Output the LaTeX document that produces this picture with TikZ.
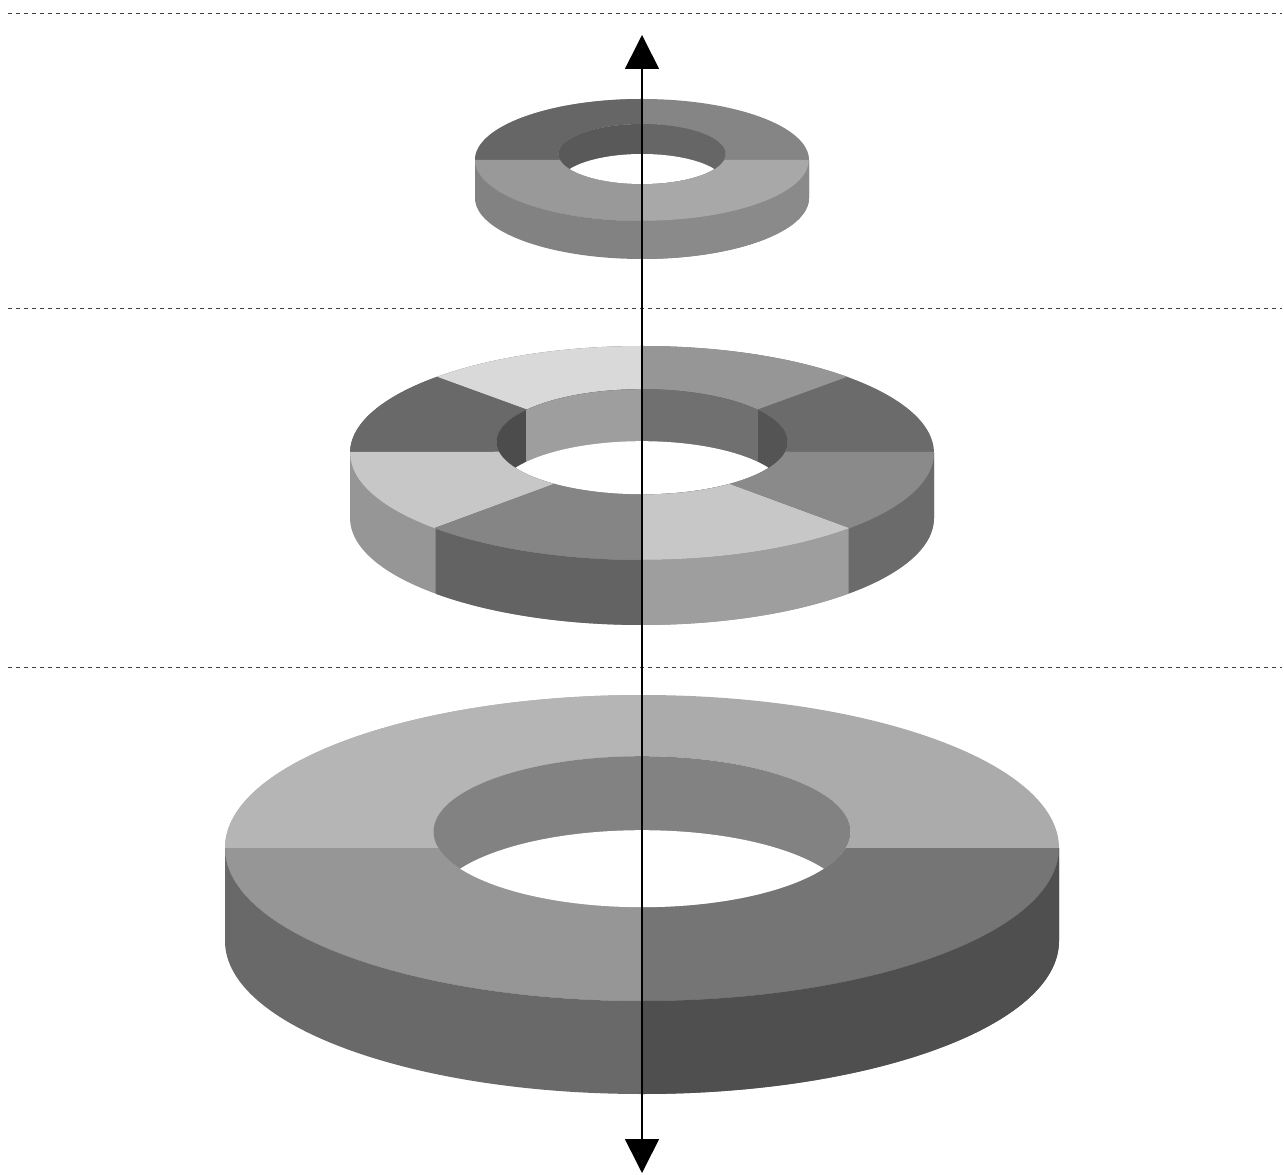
\documentclass[tikz,border=0pt]{standalone}
\usetikzlibrary{arrows.meta}
\tikzset{
  guide/.style={draw=black!75, line width=0.02cm, dash pattern=on 0.08cm off 0.08cm},
  axisline/.style={line width=0.032cm, {Triangle[length=0.68cm,width=0.68cm]}-{Triangle[length=0.68cm,width=0.68cm]}},
}
\begin{document}
\begin{tikzpicture}[x=0.02cm,y=0.02cm]
\useasboundingbox (0,0) rectangle (1284,1174);
% dashed guide lines
\foreach \gy/\gn in {1160/a,865/b,507/c} {
  \coordinate (g\gn l) at (8,\gy);
  \coordinate (g\gn r) at (1282,\gy);
  \draw[guide] (g\gn l) -- (g\gn r);
}
% top washer
\begin{scope}[shift={(642,1014)}]
  \fill[black!48, even odd rule] (0,0) ellipse [x radius=167, y radius=61] (0,6) ellipse [x radius=83.5, y radius=30];
  \foreach \a/\b/\c in {90/180/black!60,180/270/black!40,270/360/black!34} {
    \begin{scope}
      \clip (0,0) -- ({3*167*cos(\a)},{3*61*sin(\a)}) -- ({3*167*cos((\a+\b)/2)},{3*61*sin((\a+\b)/2)}) -- ({3*167*cos(\b)},{3*61*sin(\b)}) -- cycle;
      \fill[\c, even odd rule] (0,0) ellipse [x radius=167, y radius=61] (0,6) ellipse [x radius=83.5, y radius=30];
    \end{scope}
  }
  \fill[black!49] (-167,0) -- (-167,-38) arc[start angle=180, end angle=360, x radius=167, y radius=61] -- (167,0) arc[start angle=0, end angle=-180, x radius=167, y radius=61] -- cycle;
  \begin{scope}
    \clip (0,-200) rectangle (200,1);
    \fill[black!46] (-167,0) -- (-167,-38) arc[start angle=180, end angle=360, x radius=167, y radius=61] -- (167,0) arc[start angle=0, end angle=-180, x radius=167, y radius=61] -- cycle;
  \end{scope}
  \begin{scope}
    \clip (0,6) ellipse [x radius=83.5, y radius=30];
    \fill[black!65] (-90,-40) rectangle (90,40);
    \fill[black!60] (0,-40) rectangle (90,40);
    \fill[white] (0,-24) ellipse [x radius=83.5, y radius=30];
  \end{scope}
\end{scope}
% middle washer
\begin{scope}[shift={(642,721)}]
  \fill[black!58, even odd rule] (0,0) ellipse [x radius=292, y radius=107] (0,11.3) ellipse [x radius=145.5, y radius=52.5];
  \foreach \a/\b/\c in {45/90/black!41,90/135/black!15,135/180/black!59,180/225/black!22,225/270/black!48,270/315/black!22,315/360/black!46} {
    \begin{scope}
      \clip (0,1.5) -- ({3*292*cos(\a)},{3*107*sin(\a)}) -- ({3*292*cos((\a+\b)/2)},{3*107*sin((\a+\b)/2)}) -- ({3*292*cos(\b)},{3*107*sin(\b)}) -- cycle;
      \fill[\c, even odd rule] (0,0) ellipse [x radius=292, y radius=107] (0,11.3) ellipse [x radius=145.5, y radius=52.5];
    \end{scope}
  }
  \fill[black!41] (-292,0) -- (-292,-65) arc[start angle=180, end angle=360, x radius=292, y radius=107] -- (292,0) arc[start angle=0, end angle=-180, x radius=292, y radius=107] -- cycle;
  \foreach \xa/\xb/\c in {-206.5/0/black!61,0/206.5/black!38,206.5/300/black!58} {
    \begin{scope}
      \clip (\xa,-300) rectangle (\xb,1);
      \fill[\c] (-292,0) -- (-292,-65) arc[start angle=180, end angle=360, x radius=292, y radius=107] -- (292,0) arc[start angle=0, end angle=-180, x radius=292, y radius=107] -- cycle;
    \end{scope}
  }
  \begin{scope}
    \clip (0,11.3) ellipse [x radius=145.5, y radius=52.5];
    \fill[black!70] (-150,-60) rectangle (150,70);
    \fill[black!38] (-116,-60) rectangle (0,70);
    \fill[black!56] (0,-60) rectangle (116,70);
    \fill[black!67] (116,-60) rectangle (150,70);
    \fill[white] (0,-40.7) ellipse [x radius=145.5, y radius=52.5];
  \end{scope}
\end{scope}
% bottom washer
\begin{scope}[shift={(642,326)}]
  \fill[black!33, even odd rule] (0,0) ellipse [x radius=417, y radius=153] (0,16.3) ellipse [x radius=208.5, y radius=75.5];
  \foreach \a/\b/\c in {90/180/black!29,180/270/black!41,270/360/black!54} {
    \begin{scope}
      \clip (0,0) -- ({3*417*cos(\a)},{3*153*sin(\a)}) -- ({3*417*cos((\a+\b)/2)},{3*153*sin((\a+\b)/2)}) -- ({3*417*cos(\b)},{3*153*sin(\b)}) -- cycle;
      \fill[\c, even odd rule] (0,0) ellipse [x radius=417, y radius=153] (0,16.3) ellipse [x radius=208.5, y radius=75.5];
    \end{scope}
  }
  \fill[black!59] (-417,0) -- (-417,-93) arc[start angle=180, end angle=360, x radius=417, y radius=153] -- (417,0) arc[start angle=0, end angle=-180, x radius=417, y radius=153] -- cycle;
  \begin{scope}
    \clip (0,-400) rectangle (500,1);
    \fill[black!69] (-417,0) -- (-417,-93) arc[start angle=180, end angle=360, x radius=417, y radius=153] -- (417,0) arc[start angle=0, end angle=-180, x radius=417, y radius=153] -- cycle;
  \end{scope}
  \begin{scope}
    \clip (0,16.3) ellipse [x radius=208.5, y radius=75.5];
    \fill[black!49] (-220,-80) rectangle (220,100);
    \fill[white] (0,-57.7) ellipse [x radius=208.5, y radius=75.5];
  \end{scope}
\end{scope}
% axis
\coordinate (axtop) at (642,1139);
\coordinate (axbot) at (642,1);
\draw[axisline] (axbot) -- (axtop);
\end{tikzpicture}
\end{document}
